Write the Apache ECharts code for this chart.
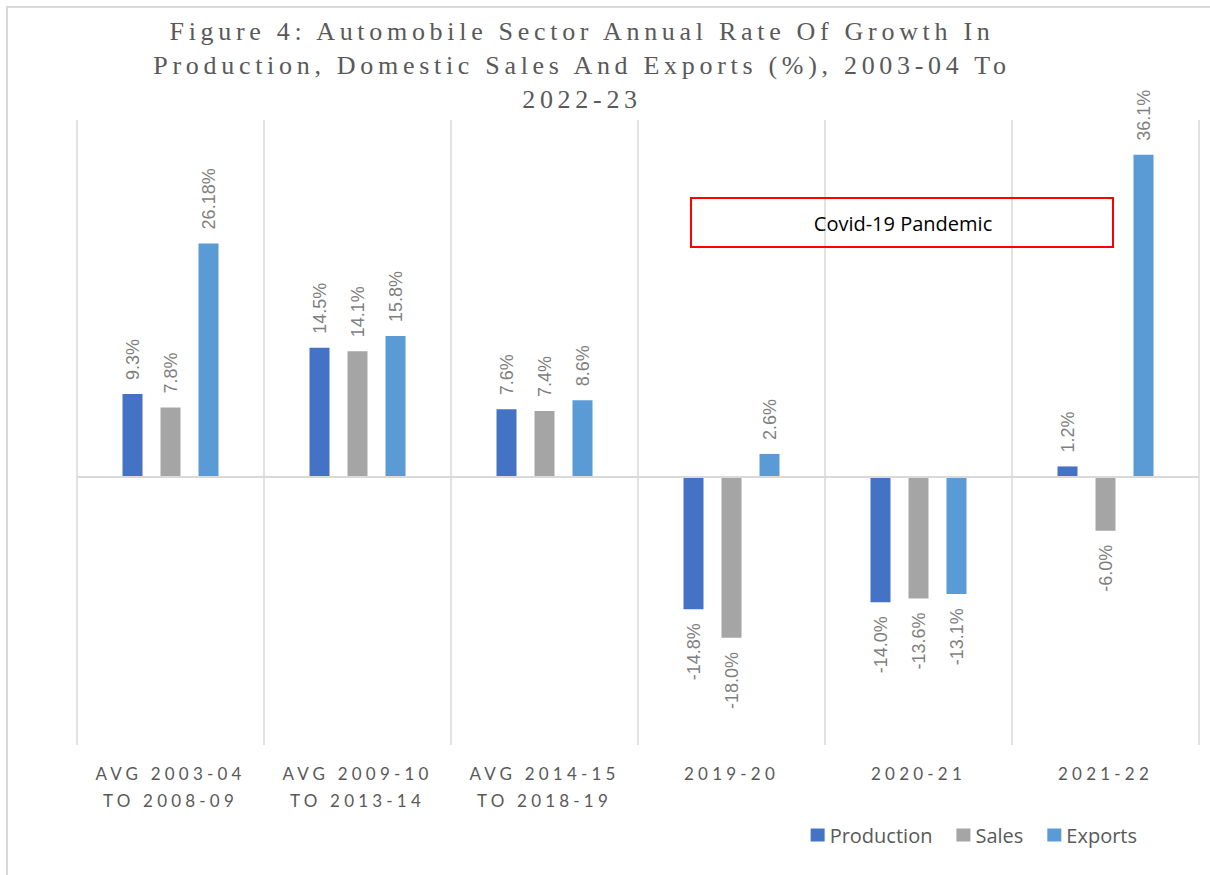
<!DOCTYPE html>
<html>
<head>
<meta charset="utf-8">
<script src="https://cdn.jsdelivr.net/npm/echarts@6/dist/echarts.min.js"></script>
<style>
  html, body { margin: 0; padding: 0; background: #fff; }
  #chart { width: 1210px; height: 875px; }
  #chart text[style*="Liberation Serif"] { letter-spacing: 4.7px; }
  #chart text[style*="Lato"] { letter-spacing: 4.2px; }
</style>
</head>
<body>
<div id="chart"></div>
<script>
const titleText = 'Figure 4: Automobile Sector Annual Rate Of Growth In\nProduction, Domestic Sales And Exports (%), 2003-04 To\n2022-23';
const categories = ['AVG 2003-04 TO 2008-09', 'AVG 2009-10 TO 2013-14', 'AVG 2014-15 TO 2018-19', '2019-20', '2020-21', '2021-22'];
const production = [9.3, 14.5, 7.6, -14.8, -14.0, 1.2];
const sales = [7.8, 14.1, 7.4, -18.0, -13.6, -6.0];
const exportsData = [26.18, 15.8, 8.6, 2.6, -13.1, 36.1];
const annotationText = 'Covid-19 Pandemic';

function fmt(v) {
  return (Math.round(v * 100) % 10 !== 0 ? v.toFixed(2) : v.toFixed(1)) + '%';
}
function toItems(arr) {
  return arr.map(v => v < 0
    ? { value: v, label: { position: 'bottom', align: 'right' } }
    : { value: v });
}
const labelStyle = {
  show: true,
  position: 'top',
  rotate: 90,
  align: 'left',
  verticalAlign: 'middle',
  distance: 14,
  color: '#7f7f7f',
  fontFamily: 'Liberation Sans',
  fontSize: 18,
  formatter: p => fmt(p.value)
};

const chart = echarts.init(document.getElementById('chart'), null, { renderer: 'svg' });
chart.setOption({
  backgroundColor: '#fff',
  animation: false,
  title: {
    text: titleText,
    left: 577,
    textAlign: 'center',
    top: 9,
    textStyle: {
      fontFamily: 'Liberation Serif',
      fontSize: 26,
      fontWeight: 'normal',
      color: '#595959',
      lineHeight: 34
    }
  },
  legend: {
    right: 68,
    top: 820,
    itemWidth: 14,
    itemHeight: 13,
    itemGap: 24,
    icon: 'rect',
    textStyle: { fontFamily: 'Open Sans', fontSize: 20, color: '#595959' },
    data: ['Production', 'Sales', 'Exports']
  },
  grid: { left: 77, right: 11, top: 120, bottom: 130, containLabel: false },
  xAxis: {
    type: 'category',
    data: categories,
    position: 'bottom',
    axisLine: { show: false, onZero: false },
    axisTick: { show: false },
    splitLine: { show: true, lineStyle: { color: '#d9d9d9', width: 1.5 } },
    axisLabel: {
      margin: 15,
      interval: 0,
      color: '#595959',
      fontFamily: 'Lato',
      fontSize: 17,
      lineHeight: 27,
      formatter: v => v.replace(' TO ', '\nTO ')
    }
  },
  yAxis: { type: 'value', min: -30, max: 40, show: false },
  graphic: [
    {
      type: 'rect',
      shape: { x: 7, y: 7, width: 1230, height: 900 },
      style: { fill: 'none', stroke: '#d9d9d9', lineWidth: 2 },
      silent: true,
      z: 100
    },
    {
      type: 'rect',
      shape: { x: 691, y: 198, width: 422, height: 49 },
      style: { fill: 'none', stroke: '#ff0000', lineWidth: 2 },
      z: 100
    },
    {
      type: 'text',
      x: 903,
      y: 223,
      style: {
        text: annotationText,
        fontFamily: 'Open Sans',
        fontSize: 20,
        fill: '#000',
        textAlign: 'center',
        textVerticalAlign: 'middle'
      },
      z: 100
    }
  ],
  series: [
    {
      name: 'Production', type: 'bar', data: toItems(production),
      barWidth: 20, barGap: '90%',
      itemStyle: { color: '#4472C4' },
      label: labelStyle,
      markLine: {
        silent: true, symbol: 'none', label: { show: false },
        lineStyle: { color: '#d9d9d9', width: 2, type: 'solid' },
        data: [{ yAxis: 0 }]
      }
    },
    {
      name: 'Sales', type: 'bar', data: toItems(sales),
      barWidth: 20, barGap: '90%',
      itemStyle: { color: '#A5A5A5' },
      label: labelStyle
    },
    {
      name: 'Exports', type: 'bar', data: toItems(exportsData),
      barWidth: 20, barGap: '90%',
      itemStyle: { color: '#5B9BD5' },
      label: labelStyle
    }
  ]
});
</script>
</body>
</html>
